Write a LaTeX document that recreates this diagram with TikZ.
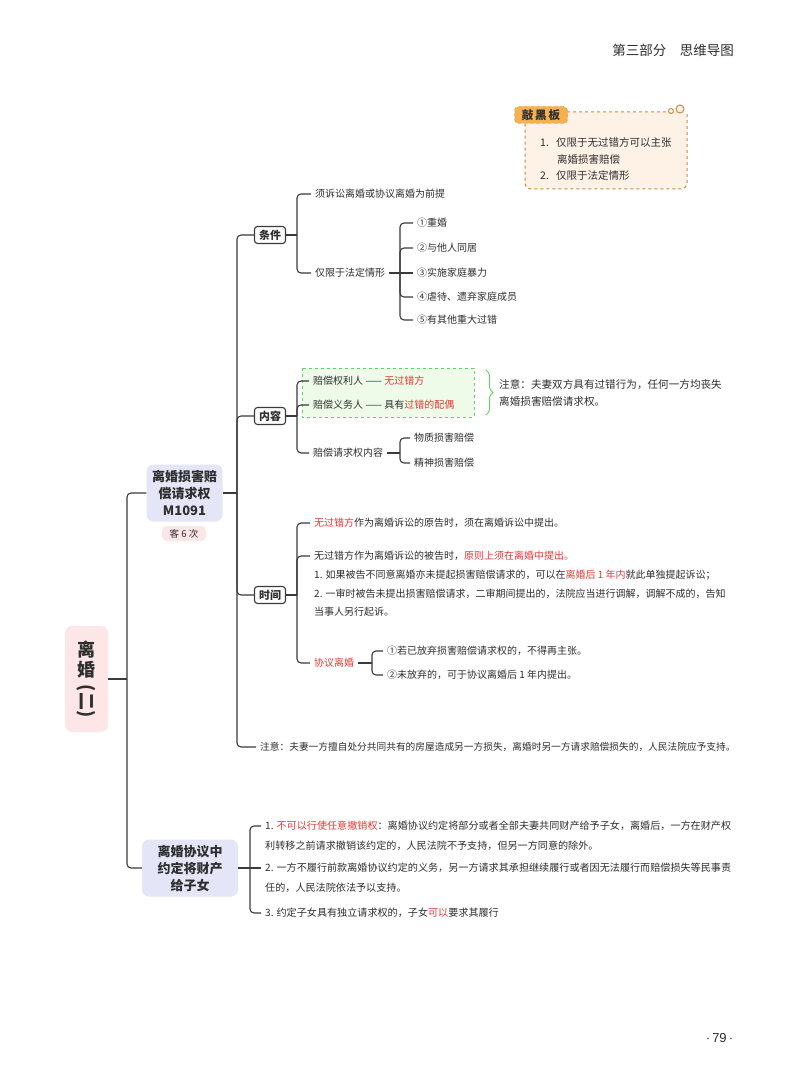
\documentclass[tikz,border=0pt]{standalone}
\usepackage{fontspec}
\setmainfont{Noto Sans CJK SC}
\newfontfamily\latinf{Liberation Sans}
\usetikzlibrary{decorations.pathreplacing}
\definecolor{linec}{HTML}{3A3A3A}
\definecolor{txt}{HTML}{2E2E2E}
\definecolor{redt}{HTML}{E53935}
\definecolor{lav}{HTML}{E5E5F8}
\definecolor{pinkbg}{HTML}{FCE6E8}
\definecolor{gfill}{HTML}{EDFBE8}
\definecolor{gline}{HTML}{66D166}
\definecolor{peach}{HTML}{FEF1E6}
\definecolor{bline}{HTML}{C98A45}
\definecolor{tago}{HTML}{F6B04E}
\newcommand\rtx[1]{\textcolor{redt}{#1}}
\begin{document}
\begin{tikzpicture}[x=1pt,y=-1pt,
 every node/.style={text=txt},
 conn/.style={draw=linec,line width=1.1pt,rounded corners=4pt},
 leaf/.style={anchor=west,inner xsep=4pt,inner ysep=1pt,font=\fontsize{10}{12}\selectfont},
 leafb/.style={leaf,font=\fontsize{10.1}{12}\selectfont},
 smallbox/.style={draw=linec,line width=1.1pt,rounded corners=3pt,fill=white,font=\bfseries\fontsize{11}{13}\selectfont,minimum width=31pt,minimum height=17pt,inner sep=1pt},
 branch/.style={fill=lav,rounded corners=7pt,align=center,font=\bfseries\fontsize{13}{17}\selectfont,inner sep=2pt},
]
\useasboundingbox[fill=white] (0,0) rectangle (800,1086);

% header and page number
\node[anchor=east,font=\fontsize{13.5}{15}\selectfont,inner sep=0] (hdr) at (734,50) {第三部分\quad 思维导图};
\node[font=\latinf\fontsize{13}{14}\selectfont,inner sep=0] (pg) at (719.5,1038) {·\,79\,·};

% blackboard
\fill[peach,rounded corners=6pt] (525,112) rectangle (687,189);
\draw[bline,dashed,line width=1pt,rounded corners=6pt] (666,112) -- (525,112) -- (525,189) -- (687,189) -- (687,114);
\draw[bline,line width=1pt] (671,111) circle (2.5);
\draw[bline,line width=1pt,fill=peach] (680,109) circle (4);
\node[fill=tago,draw=bline,dashed,rounded corners=4pt,minimum width=53pt,minimum height=17pt,font=\bfseries\fontsize{11.5}{13}\selectfont,inner sep=1pt] (bbt) at (541,115) {敲\,黑\,板};
\node[anchor=west,font=\fontsize{10.5}{13}\selectfont,inner sep=0] (bb1) at (540,143) {1.\ \ \ 仅限于无过错方可以主张};
\node[anchor=west,font=\fontsize{10.5}{13}\selectfont,inner sep=0] (bb2) at (557,159) {离婚损害赔偿};
\node[anchor=west,font=\fontsize{10.5}{13}\selectfont,inner sep=0] (bb3) at (540,176) {2.\ \ \ 仅限于法定情形};

% root and branches
\node[fill=pinkbg,rounded corners=7pt,minimum width=43pt,minimum height=106pt,align=center,font=\bfseries\fontsize{18}{20}\selectfont,inner sep=0pt] (root) at (86.5,679) {离\\婚\\[6pt]\rotatebox[origin=c]{-90}{(二)}};
\node[branch,minimum width=76pt,minimum height=57pt] (b1) at (184.5,493) {离婚损害赔\\偿请求权\\M1091};
\node[fill=pinkbg,rounded corners=5pt,minimum width=44pt,minimum height=15pt,inner sep=1pt,font=\fontsize{9.5}{11}\selectfont] (cnt) at (184,533.5) {客 6 次};
\node[branch,minimum width=96pt,minimum height=57pt] (b2) at (190,868) {离婚协议中\\约定将财产\\给子女};

\coordinate (rx) at (127,679);
\draw[conn] (root.east) -- (rx);
\draw[conn] (rx) |- (b1.west);
\draw[conn] (rx) |- (b2.west);

% branch 1 trunk
\coordinate (b1x) at (237,493);
\draw[conn] (b1.east) -- (b1x);
\node[smallbox] (tj) at (270,235) {条件};
\node[smallbox] (nr) at (270,416) {内容};
\node[smallbox] (sj) at (270,595) {时间};
\node[leaf,font=\fontsize{9.7}{12}\selectfont] (zy2) at (256,747) {注意：夫妻一方擅自处分共同共有的房屋造成另一方损失，离婚时另一方请求赔偿损失的，人民法院应予支持。};
\draw[conn] (b1x) |- (tj.west);
\draw[conn] (b1x) |- (nr.west);
\draw[conn] (b1x) |- (sj.west);
\draw[conn] (b1x) |- (zy2.west);

% conditions
\coordinate (tjx) at (297,235);
\draw[conn] (tj.east) -- (tjx);
\node[leaf] (tj1) at (311,194) {须诉讼离婚或协议离婚为前提};
\node[leaf] (tj2) at (311,273) {仅限于法定情形};
\draw[conn] (tjx) |- (tj1.west);
\draw[conn] (tjx) |- (tj2.west);
\coordinate (tj2x) at (400,273);
\draw[conn] (tj2.east) -- (tj2x);
\node[leaf] (f1) at (413,223) {①重婚};
\node[leaf] (f2) at (413,248) {②与他人同居};
\node[leaf] (f3) at (413,273) {③实施家庭暴力};
\node[leaf] (f4) at (413,297) {④虐待、遗弃家庭成员};
\node[leaf] (f5) at (413,320) {⑤有其他重大过错};
\draw[conn] (tj2x) |- (f1.west);
\draw[conn] (tj2x) |- (f2.west);
\draw[conn] (tj2x) -- (f3.west);
\draw[conn] (tj2x) |- (f4.west);
\draw[conn] (tj2x) |- (f5.west);

% content
\draw[gline,dashed,fill=gfill,line width=0.8pt] (302,368) rectangle (474,417);
\coordinate (nrx) at (297,416);
\draw[conn] (nr.east) -- (nrx);
\node[leaf] (nr1) at (309,381) {赔偿权利人 —— \rtx{无过错方}};
\node[leaf] (nr2) at (309,405) {赔偿义务人 —— 具有\rtx{过错的配偶}};
\node[leaf] (nr3) at (309,453) {赔偿请求权内容};
\draw[conn] (nrx) |- (nr1.west);
\draw[conn] (nrx) |- (nr2.west);
\draw[conn] (nrx) |- (nr3.west);
\coordinate (nr3x) at (400,453);
\draw[conn] (nr3.east) -- (nr3x);
\node[leaf] (pc1) at (410,438) {物质损害赔偿};
\node[leaf] (pc2) at (410,463) {精神损害赔偿};
\draw[conn] (nr3x) |- (pc1.west);
\draw[conn] (nr3x) |- (pc2.west);
\coordinate (brT) at (486,370);
\coordinate (brB) at (486,415);
\draw[gline,line width=1pt,decorate,decoration={brace,amplitude=7pt}] (brT) -- (brB);
\node[anchor=west,align=left,font=\fontsize{10.6}{17}\selectfont,inner sep=0] (zy1) at (499,393) {注意：夫妻双方具有过错行为，任何一方均丧失\\离婚损害赔偿请求权。};

% time
\coordinate (sjx) at (297,595);
\draw[conn] (sj.east) -- (sjx);
\node[leaf] (t1) at (310,523) {\rtx{无过错方}作为离婚诉讼的原告时，须在离婚诉讼中提出。};
\node[leaf] (t2) at (310,556) {无过错方作为离婚诉讼的被告时，\rtx{原则上须在离婚中提出。}};
\node[leaf] (t2a) at (310,575) {1. 如果被告不同意离婚亦未提起损害赔偿请求的，可以在\rtx{离婚后 1 年内}就此单独提起诉讼；};
\node[leaf] (t2b) at (310,594) {2. 一审时被告未提出损害赔偿请求，二审期间提出的，法院应当进行调解，调解不成的，告知};
\node[leaf] (t2c) at (310,612) {当事人另行起诉。};
\node[leaf] (t3) at (310,663) {\rtx{协议离婚}};
\draw[conn] (sjx) |- (t1.west);
\draw[conn] (sjx) |- (t2.west);
\draw[conn] (sjx) |- (t3.west);
\coordinate (t3x) at (372,663);
\draw[conn] (t3.east) -- (t3x);
\node[leaf] (x1) at (383,651) {①若已放弃损害赔偿请求权的，不得再主张。};
\node[leaf] (x2) at (383,675) {②未放弃的，可于协议离婚后 1 年内提出。};
\draw[conn] (t3x) |- (x1.west);
\draw[conn] (t3x) |- (x2.west);

% branch 2
\coordinate (b2x) at (250,868);
\draw[conn] (b2.east) -- (b2x);
\node[leafb] (p1) at (261,826) {1. \rtx{不可以行使任意撤销权}：离婚协议约定将部分或者全部夫妻共同财产给予子女，离婚后，一方在财产权};
\node[leafb] (p1b) at (261,846) {利转移之前请求撤销该约定的，人民法院不予支持，但另一方同意的除外。};
\node[leafb] (p2) at (261,868) {2. 一方不履行前款离婚协议约定的义务，另一方请求其承担继续履行或者因无法履行而赔偿损失等民事责};
\node[leafb] (p2b) at (261,888) {任的，人民法院依法予以支持。};
\node[leafb] (p3) at (261,913) {3. 约定子女具有独立请求权的，子女\rtx{可以}要求其履行};
\draw[conn] (b2x) |- (p1.west);
\draw[conn] (b2x) -- (p2.west);
\draw[conn] (b2x) |- (p3.west);
\end{tikzpicture}
\end{document}
